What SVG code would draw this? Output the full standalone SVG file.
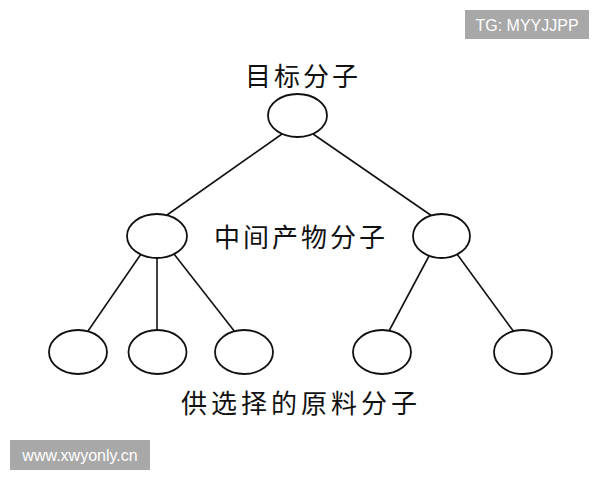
<svg xmlns="http://www.w3.org/2000/svg" width="600" height="480" viewBox="0 0 600 480">
<style>
.n{fill:#fff;stroke:#111;stroke-width:1.8}
.e{stroke:#111;stroke-width:1.6;fill:none}
.lbl{font-family:"Noto Sans CJK SC","Noto Sans",sans-serif;font-size:26px;fill:#111;text-anchor:middle;letter-spacing:3px}
.wm{fill:#a8a8a8}
.wt{font-family:"Liberation Sans",Arial,sans-serif;font-size:16px;fill:#fff;text-anchor:middle}
</style>
<rect width="600" height="480" fill="#fff"/>
<g id="connectors">
<line class="e" x1="282" y1="134" x2="167" y2="215"/>
<line class="e" x1="313" y1="134" x2="432" y2="216"/>
<line class="e" x1="141" y1="254" x2="88" y2="331"/>
<line class="e" x1="157" y1="258" x2="157" y2="330"/>
<line class="e" x1="174" y1="254" x2="235" y2="332"/>
<line class="e" x1="429" y1="256" x2="389" y2="331"/>
<line class="e" x1="457" y1="254" x2="514" y2="332"/>
</g>
<g id="target"><ellipse class="n" cx="297.5" cy="115.5" rx="29.5" ry="21.5"/></g>
<g id="mid1"><ellipse class="n" cx="157" cy="236" rx="30" ry="22"/></g>
<g id="mid2"><ellipse class="n" cx="441.5" cy="236" rx="28.5" ry="22"/></g>
<g id="leaf1"><ellipse class="n" cx="78" cy="352" rx="29" ry="22"/></g>
<g id="leaf2"><ellipse class="n" cx="157.5" cy="352" rx="29" ry="22"/></g>
<g id="leaf3"><ellipse class="n" cx="244" cy="352" rx="29" ry="22"/></g>
<g id="leaf4"><ellipse class="n" cx="382" cy="352" rx="29" ry="22"/></g>
<g id="leaf5"><ellipse class="n" cx="523" cy="352" rx="29" ry="22"/></g>
<g id="labels">
<text class="lbl" x="303" y="86">目标分子</text>
<text class="lbl" x="301" y="247">中间产物分子</text>
<text class="lbl" x="301" y="413" style="letter-spacing:4px">供选择的原料分子</text>
</g>
<g id="watermarks">
<rect class="wm" x="465" y="10" width="124" height="29"/>
<text class="wt" x="527" y="31">TG: MYYJJPP</text>
<rect class="wm" x="10" y="440" width="140" height="30"/>
<text class="wt" x="80" y="461">www.xwyonly.cn</text>
</g>
</svg>
